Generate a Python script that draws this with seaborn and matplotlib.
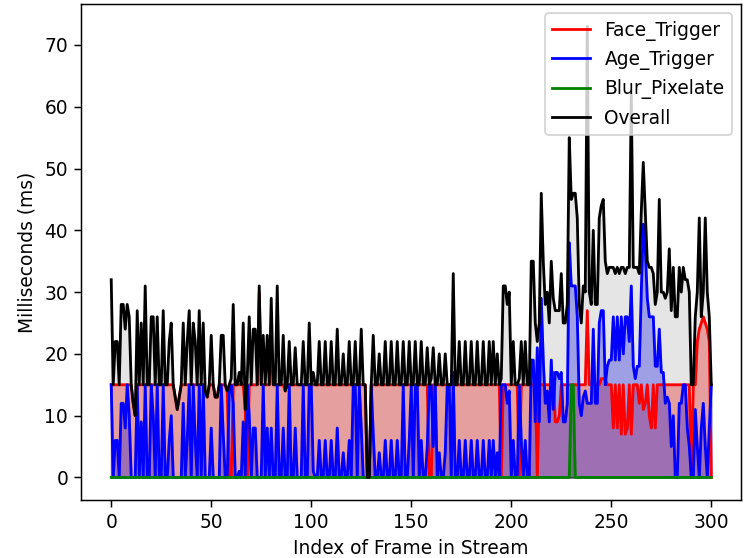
import matplotlib
matplotlib.use('Agg')
import pandas as pd
import seaborn as sns
import matplotlib.pyplot as plt

# per-frame timings (ms)
face_trigger = [
    15, 15, 15, 15, 15, 15, 15, 15, 15, 15,
    15, 12, 10, 15, 15, 15, 15, 15, 15, 15,
    15, 15, 15, 15, 15, 15, 15, 15, 15, 15,
    15, 15, 13, 11, 13, 15, 15, 15, 15, 15,
    15, 15, 15, 15, 15, 15, 15, 14, 13, 15,
    15, 15, 13, 13, 15, 15, 15, 15, 14, 0,
    0, 15, 15, 15, 15, 15, 15, 11, 0, 15,
    15, 15, 15, 15, 30, 15, 15, 15, 15, 15,
    22, 15, 15, 15, 15, 15, 15, 14, 15, 15,
    15, 15, 15, 15, 15, 15, 15, 15, 15, 15,
    15, 15, 15, 15, 15, 15, 15, 15, 15, 15,
    15, 15, 15, 15, 15, 15, 15, 15, 15, 15,
    15, 15, 15, 15, 15, 15, 15, 15, 0, 0,
    15, 15, 15, 15, 15, 15, 15, 15, 15, 15,
    15, 15, 15, 15, 15, 15, 15, 15, 15, 15,
    15, 15, 15, 15, 15, 15, 15, 15, 15, 0,
    0, 15, 15, 15, 15, 15, 15, 15, 15, 15,
    15, 15, 15, 15, 15, 15, 15, 15, 15, 15,
    15, 15, 15, 15, 15, 15, 15, 15, 15, 15,
    15, 15, 15, 15, 15, 0, 15, 15, 15, 15,
    15, 15, 15, 15, 0, 15, 15, 15, 15, 15,
    15, 15, 15, 0, 15, 15, 15, 15, 15, 15,
    15, 17, 9, 9, 10, 15, 15, 15, 15, 15,
    15, 15, 15, 15, 15, 15, 15, 15, 27, 15,
    15, 15, 15, 15, 15, 16, 16, 16, 15, 15,
    15, 8, 15, 8, 15, 7, 15, 7, 8, 15,
    7, 15, 15, 15, 12, 15, 11, 12, 15, 10,
    8, 15, 8, 15, 15, 15, 15, 15, 15, 15,
    15, 15, 15, 15, 15, 15, 15, 15, 15, 15,
    0, 15, 15, 22, 24, 25, 26, 25, 24, 22,
    0,
]

age_trigger = [
    15, 0, 6, 6, 0, 12, 12, 8, 15, 10,
    0, 0, 0, 15, 0, 9, 0, 15, 0, 0,
    15, 10, 0, 15, 0, 0, 15, 0, 0, 6,
    10, 0, 0, 0, 0, 0, 12, 0, 6, 15,
    0, 15, 6, 0, 15, 0, 15, 0, 0, 0,
    8, 0, 0, 0, 0, 15, 7, 0, 0, 14,
    15, 12, 0, 0, 1, 0, 9, 0, 15, 10,
    0, 8, 8, 0, 0, 0, 15, 0, 8, 0,
    8, 0, 0, 15, 0, 0, 8, 0, 0, 15,
    0, 0, 8, 0, 0, 0, 15, 0, 0, 15,
    15, 1, 0, 0, 6, 0, 0, 6, 0, 0,
    6, 0, 0, 8, 0, 0, 4, 0, 0, 6,
    0, 15, 15, 0, 15, 8, 0, 0, 0, 0,
    15, 7, 0, 0, 4, 0, 0, 6, 0, 0,
    6, 0, 0, 6, 0, 0, 15, 0, 0, 6,
    15, 0, 15, 15, 0, 6, 0, 0, 5, 15,
    15, 5, 15, 0, 4, 0, 0, 4, 15, 15,
    0, 17, 0, 0, 6, 0, 0, 6, 0, 0,
    6, 0, 0, 6, 0, 0, 6, 0, 0, 6,
    0, 6, 0, 4, 0, 15, 15, 15, 12, 14,
    0, 6, 0, 0, 15, 6, 0, 6, 0, 0,
    19, 19, 9, 21, 9, 29, 19, 12, 14, 9,
    19, 11, 17, 17, 16, 17, 9, 9, 12, 38,
    31, 31, 31, 26, 12, 10, 13, 14, 12, 12,
    12, 24, 12, 12, 25, 27, 27, 15, 18, 19,
    19, 26, 19, 26, 19, 26, 20, 26, 26, 22,
    31, 18, 16, 18, 18, 30, 41, 37, 29, 26,
    26, 26, 18, 18, 24, 17, 17, 12, 13, 12,
    5, 10, 0, 0, 12, 12, 15, 15, 8, 5,
    0, 0, 11, 5, 0, 8, 12, 5, 0, 8,
    15,
]

blur_pixelate = [0] * 230 + [15, 15] + [0] * 69

overall = [
    32, 15, 22, 22, 15, 28, 28, 24, 28, 26,
    15, 12, 10, 27, 15, 25, 15, 31, 15, 15,
    26, 26, 15, 26, 15, 15, 27, 15, 15, 22,
    25, 15, 13, 11, 13, 15, 25, 15, 22, 27,
    15, 25, 22, 15, 27, 15, 25, 14, 13, 15,
    23, 15, 13, 13, 15, 23, 23, 15, 14, 15,
    16, 28, 15, 15, 17, 15, 25, 11, 16, 26,
    15, 24, 24, 15, 31, 15, 23, 15, 23, 15,
    29, 15, 15, 31, 15, 15, 23, 14, 15, 22,
    15, 15, 21, 15, 15, 15, 22, 15, 15, 25,
    15, 17, 15, 15, 22, 15, 15, 22, 15, 15,
    22, 15, 15, 24, 15, 15, 20, 15, 15, 22,
    15, 15, 22, 15, 15, 24, 15, 15, 0, 0,
    15, 23, 15, 15, 20, 15, 15, 22, 15, 15,
    22, 15, 15, 22, 15, 15, 22, 15, 15, 22,
    15, 15, 22, 15, 15, 22, 15, 15, 21, 15,
    16, 21, 15, 15, 20, 15, 15, 20, 15, 15,
    15, 33, 15, 15, 22, 15, 15, 22, 15, 15,
    22, 15, 15, 22, 15, 15, 22, 15, 15, 22,
    15, 22, 15, 20, 15, 16, 31, 31, 28, 30,
    15, 22, 15, 15, 16, 22, 15, 22, 15, 15,
    35, 35, 25, 22, 25, 46, 35, 28, 30, 25,
    35, 29, 27, 27, 27, 33, 25, 25, 28, 55,
    45, 46, 46, 42, 28, 25, 31, 30, 73, 30,
    28, 40, 28, 28, 42, 44, 45, 35, 33, 34,
    34, 34, 33, 34, 33, 34, 34, 33, 34, 34,
    62, 34, 34, 34, 33, 43, 51, 43, 35, 34,
    34, 33, 28, 30, 45, 30, 30, 29, 30, 37,
    27, 34, 26, 26, 34, 30, 34, 32, 32, 30,
    15, 15, 26, 30, 42, 26, 30, 42, 30, 26,
    15,
]

frames = list(range(len(overall)))

df = pd.DataFrame({
    'frame': frames,
    'Face_Trigger': face_trigger,
    'Age_Trigger': age_trigger,
    'Blur_Pixelate': blur_pixelate,
    'Overall': overall,
})

# reference looks like a small figure blown up, so render at a higher dpi
dpi = 134
fig, ax = plt.subplots(figsize=(745 / dpi, 558 / dpi), dpi=dpi)
fig.subplots_adjust(left=0.109, right=0.995, top=0.993, bottom=0.104)

series = [
    ('Face_Trigger', 'red', 0.3),
    ('Age_Trigger', 'blue', 0.3),
    ('Blur_Pixelate', 'green', 0.3),
    ('Overall', 'black', 0.1),
]
for name, col, a in series:
    sns.lineplot(data=df, x='frame', y=name, color=col, label=name, ax=ax)
    ax.fill_between(df['frame'], df[name], color=col, alpha=a)

ax.set_xlabel('Index of Frame in Stream')
ax.set_ylabel('Milliseconds (ms)')
ax.legend(loc='upper right')

fig.savefig('out.png', dpi=dpi)
